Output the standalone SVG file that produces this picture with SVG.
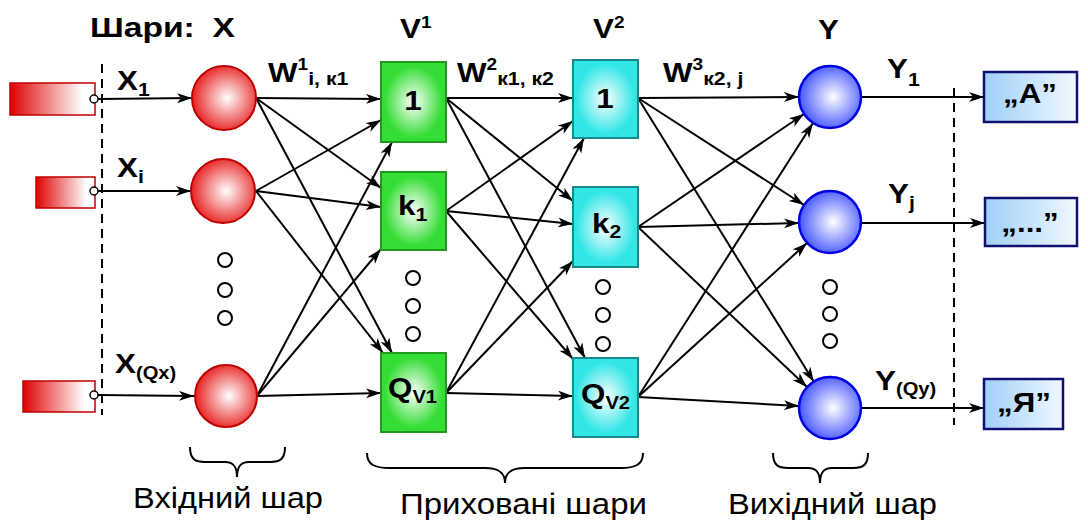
<svg xmlns="http://www.w3.org/2000/svg" width="1088" height="520" viewBox="0 0 1088 520">
<defs>
<style>
.lb{font-family:"Liberation Sans",Arial,sans-serif;font-weight:bold;font-size:28px;fill:#000}
.cap{font-family:"Liberation Sans",Arial,sans-serif;font-size:29px;fill:#000}
.conn line{stroke:#000;stroke-width:2;fill:none}
.arr{marker-end:url(#ah)}
.dash{stroke:#000;stroke-width:2;stroke-dasharray:9 6;fill:none}
.brace{stroke:#000;stroke-width:2;fill:none}
.dot{fill:#fff;stroke:#000;stroke-width:2}
.xin{fill:url(#gIn);stroke:#c00000;stroke-width:1.5}
.xc{fill:url(#gRed);stroke:#c00000;stroke-width:2}
.yc{fill:url(#gBlue);stroke:#0000e0;stroke-width:2.5}
.v1{fill:url(#gGreen);stroke:#1f9a1f;stroke-width:2}
.v2{fill:url(#gCyan);stroke:#168a8a;stroke-width:2}
.out{fill:url(#gOut);stroke:#101070;stroke-width:2.5}
.port{fill:#fff;stroke:#000;stroke-width:1.5}
</style>
<marker id="ah" markerWidth="16" markerHeight="11" refX="15" refY="5" orient="auto" markerUnits="userSpaceOnUse">
<path d="M0,0 L15,5 L0,10 L4,5 Z" fill="#000"/>
</marker>
<linearGradient id="gIn" x1="0" y1="0" x2="1" y2="0">
<stop offset="0" stop-color="#e00000"/><stop offset="0.85" stop-color="#ffffff"/><stop offset="1" stop-color="#ffffff"/>
</linearGradient>
<radialGradient id="gRed" cx="0.55" cy="0.5" r="0.55">
<stop offset="0" stop-color="#ffffff"/><stop offset="1" stop-color="#e82020"/>
</radialGradient>
<radialGradient id="gBlue" cx="0.55" cy="0.5" r="0.55">
<stop offset="0" stop-color="#ffffff"/><stop offset="1" stop-color="#4455ff"/>
</radialGradient>
<radialGradient id="gGreen" cx="0.5" cy="0.5" r="0.6">
<stop offset="0" stop-color="#ffffff"/><stop offset="0.75" stop-color="#33dd33"/><stop offset="1" stop-color="#33dd33"/>
</radialGradient>
<radialGradient id="gCyan" cx="0.5" cy="0.5" r="0.6">
<stop offset="0" stop-color="#ffffff"/><stop offset="0.75" stop-color="#33e6e6"/><stop offset="1" stop-color="#33e6e6"/>
</radialGradient>
<linearGradient id="gOut" x1="0" y1="0" x2="1" y2="0">
<stop offset="0" stop-color="#9fd0f8"/><stop offset="1" stop-color="#f0f8ff"/>
</linearGradient>
</defs>
<rect width="1088" height="520" fill="#fff"/>

<g id="layer-titles">
<text class="lb" transform="translate(90,37) scale(1.2,1)">Шари:<tspan x="102">X</tspan></text>
<text class="lb" transform="translate(400,38) scale(1.12,1)">V<tspan font-size="17" dy="-10">1</tspan></text>
<text class="lb" transform="translate(593,38) scale(1.12,1)">V<tspan font-size="17" dy="-10">2</tspan></text>
<text class="lb" transform="translate(818,39) scale(1.12,1)">Y</text>
</g>

<g id="boundaries">
<line class="dash" x1="102" y1="64" x2="102" y2="415"/>
<line class="dash" x1="954" y1="88" x2="954" y2="425"/>
</g>

<g id="connectors" class="conn">
<line class="arr" x1="98" y1="99" x2="192" y2="98"/>
<line class="arr" x1="98" y1="191" x2="191" y2="191"/>
<line class="arr" x1="98" y1="395" x2="194" y2="396"/>
<line class="arr" x1="256" y1="98" x2="381" y2="99"/>
<line class="arr" x1="256" y1="98" x2="381" y2="188"/>
<line class="arr" x1="256" y1="98" x2="392" y2="353"/>
<line class="arr" x1="256" y1="191" x2="381" y2="120"/>
<line class="arr" x1="256" y1="191" x2="381" y2="207"/>
<line class="arr" x1="256" y1="191" x2="383" y2="353"/>
<line class="arr" x1="257" y1="396" x2="392" y2="142"/>
<line class="arr" x1="257" y1="396" x2="381" y2="249"/>
<line class="arr" x1="257" y1="396" x2="381" y2="393"/>
<line class="arr" x1="446" y1="98" x2="573" y2="98"/>
<line class="arr" x1="446" y1="98" x2="573" y2="201"/>
<line class="arr" x1="446" y1="98" x2="585" y2="358"/>
<line class="arr" x1="446" y1="211" x2="573" y2="121"/>
<line class="arr" x1="446" y1="211" x2="573" y2="224"/>
<line class="arr" x1="446" y1="211" x2="573" y2="359"/>
<line class="arr" x1="446" y1="393" x2="584" y2="138"/>
<line class="arr" x1="446" y1="393" x2="573" y2="261"/>
<line class="arr" x1="446" y1="393" x2="573" y2="396"/>
<line class="arr" x1="638" y1="98" x2="799" y2="97"/>
<line class="arr" x1="638" y1="98" x2="804" y2="205"/>
<line class="arr" x1="638" y1="98" x2="814" y2="382"/>
<line class="arr" x1="638" y1="227" x2="804" y2="114"/>
<line class="arr" x1="638" y1="227" x2="799" y2="223"/>
<line class="arr" x1="638" y1="227" x2="807" y2="387"/>
<line class="arr" x1="638" y1="397" x2="813" y2="123"/>
<line class="arr" x1="638" y1="397" x2="807" y2="243"/>
<line class="arr" x1="638" y1="397" x2="799" y2="406"/>
<line class="arr" x1="861" y1="97" x2="984" y2="97"/>
<line class="arr" x1="861" y1="223" x2="985" y2="223"/>
<line class="arr" x1="861" y1="408" x2="984" y2="408"/>
</g>

<g id="in1"><rect class="xin" x="10" y="83" width="85" height="32"/><circle class="port" cx="94" cy="99" r="4"/></g>
<g id="in2"><rect class="xin" x="36" y="177" width="59" height="31"/><circle class="port" cx="94" cy="191" r="4"/></g>
<g id="in3"><rect class="xin" x="23" y="381" width="72" height="31"/><circle class="port" cx="94" cy="395" r="4"/></g>

<g id="x1"><circle class="xc" cx="224" cy="98" r="32"/></g>
<g id="x2"><circle class="xc" cx="223" cy="191" r="32"/></g>
<g id="x3"><circle class="xc" cx="226" cy="396" r="31"/></g>

<g id="v1-1"><rect class="v1" x="381" y="62" width="65" height="80"/><text class="lb" text-anchor="middle" transform="translate(413,110) scale(1.12,1)">1</text></g>
<g id="v1-k1"><rect class="v1" x="381" y="172" width="65" height="78"/><text class="lb" transform="translate(398,215) scale(1.12,1)">k<tspan font-size="19" dy="6">1</tspan></text></g>
<g id="v1-q"><rect class="v1" x="381" y="353" width="65" height="79"/><text class="lb" transform="translate(388,397) scale(1.12,1)">Q<tspan font-size="18" dy="6">V1</tspan></text></g>

<g id="v2-1"><rect class="v2" x="573" y="60" width="65" height="78"/><text class="lb" text-anchor="middle" transform="translate(605,108) scale(1.12,1)">1</text></g>
<g id="v2-k2"><rect class="v2" x="573" y="187" width="65" height="80"/><text class="lb" transform="translate(592,233) scale(1.12,1)">k<tspan font-size="19" dy="5">2</tspan></text></g>
<g id="v2-q"><rect class="v2" x="573" y="358" width="65" height="79"/><text class="lb" transform="translate(581,403) scale(1.12,1)">Q<tspan font-size="18" dy="6">V2</tspan></text></g>

<g id="y1"><circle class="yc" cx="830" cy="97" r="31"/></g>
<g id="y2"><circle class="yc" cx="830" cy="222" r="31"/></g>
<g id="y3"><circle class="yc" cx="830" cy="408" r="31"/></g>

<g id="o1"><rect class="out" x="984" y="72" width="93" height="50"/><text class="lb" text-anchor="middle" transform="translate(1030,103) scale(1.12,1)">„A”</text></g>
<g id="o2"><rect class="out" x="985" y="198" width="92" height="48"/><text class="lb" text-anchor="middle" transform="translate(1030,232) scale(1.12,1)">„...”</text></g>
<g id="o3"><rect class="out" x="984" y="379" width="79" height="50"/><text class="lb" text-anchor="middle" transform="translate(1024,412) scale(1.12,1)">„Я”</text></g>

<g id="ellipsis">
<circle class="dot" cx="225" cy="260" r="7"/><circle class="dot" cx="225" cy="290" r="7"/><circle class="dot" cx="225" cy="318" r="7"/>
<circle class="dot" cx="413" cy="278" r="7"/><circle class="dot" cx="413" cy="306" r="7"/><circle class="dot" cx="413" cy="334" r="7"/>
<circle class="dot" cx="603" cy="287" r="7"/><circle class="dot" cx="603" cy="315" r="7"/><circle class="dot" cx="603" cy="344" r="7"/>
<circle class="dot" cx="830" cy="287" r="7"/><circle class="dot" cx="830" cy="314" r="7"/><circle class="dot" cx="830" cy="341" r="7"/>
</g>

<g id="signal-labels">
<text class="lb" transform="translate(117,90) scale(1.12,1)">X<tspan font-size="19" dy="6">1</tspan></text>
<text class="lb" transform="translate(117,177) scale(1.12,1)">X<tspan font-size="19" dy="6">i</tspan></text>
<text class="lb" transform="translate(115,373) scale(1.12,1)">X<tspan font-size="18" dy="6">(Qx)</tspan></text>
<text class="lb" transform="translate(268,82) scale(1.12,1)">W<tspan font-size="17" dy="-12">1</tspan><tspan font-size="19" dy="15">i, к1</tspan></text>
<text class="lb" transform="translate(457,82) scale(1.12,1)">W<tspan font-size="17" dy="-12">2</tspan><tspan font-size="19" dy="15">к1, к2</tspan></text>
<text class="lb" transform="translate(663,82) scale(1.12,1)">W<tspan font-size="17" dy="-12">3</tspan><tspan font-size="19" dy="15">к2, j</tspan></text>
<text class="lb" transform="translate(887,78) scale(1.12,1)">Y<tspan font-size="19" dy="8">1</tspan></text>
<text class="lb" transform="translate(888,203) scale(1.12,1)">Y<tspan font-size="19" dy="6">j</tspan></text>
<text class="lb" transform="translate(875,390) scale(1.12,1)">Y<tspan font-size="18" dy="5">(Qy)</tspan></text>
</g>

<g id="groups">
<path class="brace" d="M190,447 C190,459 195,462 205,462 L225,462 C233,462 237,466 237,477 C237,466 241,462 249,462 L270,462 C280,462 285,459 285,447"/>
<path class="brace" d="M367,453 C367,465 375,468 390,468 L485,468 C498,468 505,472 505,483 C505,472 512,468 525,468 L620,468 C635,468 643,465 643,453"/>
<path class="brace" d="M773,453 C773,465 778,468 788,468 L808,468 C816,468 820,472 820,483 C820,472 824,468 832,468 L853,468 C863,468 868,465 868,453"/>
<text class="cap" x="133" y="508" textLength="190" lengthAdjust="spacingAndGlyphs">Вхідний шар</text>
<text class="cap" x="400" y="514" textLength="247" lengthAdjust="spacingAndGlyphs">Приховані шари</text>
<text class="cap" x="728" y="514" textLength="209" lengthAdjust="spacingAndGlyphs">Вихідний шар</text>
</g>
</svg>
